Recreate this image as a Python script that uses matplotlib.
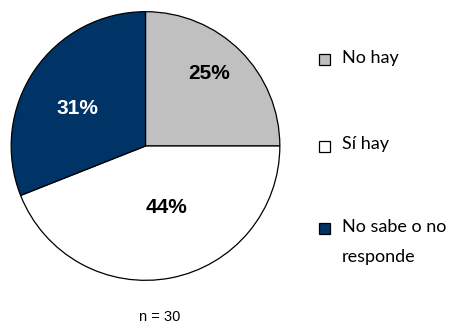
import numpy as np
import matplotlib.pyplot as plt
from matplotlib.patches import Rectangle

# --- data ---
categories = ['No hay', 'Sí hay', 'No sabe o no\nresponde']
values = [25, 44, 31]
colors = ['#C0C0C0', '#FFFFFF', '#003366']
label_colors = ['black', 'black', 'white']
n_total = 30

# label placement (radius, angle in degrees) -- matched to the reference by eye
label_pos = [(0.72, 48.5), (0.48, -71.4), (0.58, 151.6)]

W, H = 464, 325
fig = plt.figure(figsize=(W / 100, H / 100), dpi=100)

# pie centre ~ (145.5, 146) px, radius ~135 px
cx, cy, r = 145.5, 146, 135
ax = fig.add_axes([(cx - r) / W, (H - cy - r) / H, 2 * r / W, 2 * r / H])
ax.pie(values, colors=colors, startangle=90, counterclock=False,
       wedgeprops=dict(edgecolor='black', linewidth=0.9))
ax.set_xlim(-1.005, 1.005)
ax.set_ylim(-1.005, 1.005)

for v, (rad, ang), c in zip(values, label_pos, label_colors):
    a = np.deg2rad(ang)
    ax.text(rad * np.cos(a), rad * np.sin(a), f'{v}%', ha='center', va='center',
            color=c, fontsize=15, fontweight='bold', family='Liberation Sans')

# legend drawn by hand so the square lines up with the first text line
leg_y = [59, 146, 228]
for lab, col, y in zip(categories, colors, leg_y):
    fig.patches.append(Rectangle((319 / W, 1 - (y + 5.5) / H), 11 / W, 11 / H,
                                 transform=fig.transFigure, facecolor=col,
                                 edgecolor='black', linewidth=0.9))
    fig.text(342 / W, 1 - (y - 9.5) / H, lab, ha='left', va='top',
             fontsize=13, family='Lato', linespacing=2.15)

fig.text(160 / W, 1 - 317 / H, f'n = {n_total}', ha='center', va='center',
         fontsize=10.5, family='Liberation Sans')

fig.savefig('out.png', dpi=100)
